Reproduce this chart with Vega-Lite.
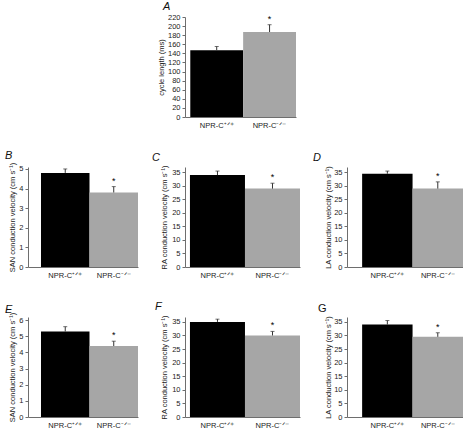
{
  "$schema": "https://vega.github.io/schema/vega-lite/v6.json",
  "padding": {"left": 5, "top": 1, "right": 0, "bottom": 0},
  "bounds": "flush",
  "columns": 3,
  "spacing": {"row": 50, "column": 47},
  "config": {
    "view": {"stroke": null},
    "font": "Liberation Sans",
    "axis": {"labelFont": "Liberation Sans", "titleFont": "Liberation Sans", "labelFontSize": 7.5, "titleFontSize": 7.5, "titleFontWeight": "normal", "domainColor": "#6e6e6e", "tickColor": "#6e6e6e", "labelColor": "#222222", "titleColor": "#222222", "grid": false, "tickSize": 3, "labelFlush": false, "labelOverlap": false, "labelSeparation": -4},
    "axisQuantitative": {"labelOverlap": false},
    "axisX": {"ticks": false, "labelAngle": 0, "labelPadding": 4},
    "axisY": {"labelPadding": 2, "labelOverlap": false},
    "title": {"font": "Liberation Sans", "fontSize": 11, "fontStyle": "italic", "fontWeight": "normal", "anchor": "start", "frame": "group", "color": "#111111", "baseline": "bottom"}
  },
  "concat": [
    {"width": 110, "height": 100, "data": {"values": [{"k": 0}]}, "mark": {"type": "point", "opacity": 0}, "encoding": {}},
    {
      "width": 111, "height": 100,
      "title": {"text": "A", "dx": -22, "offset": 1},
      "data": {"values": [{"genotype": "NPR-C⁺ᐟ⁺", "mean": 147, "upper": 155, "sig": ""}, {"genotype": "NPR-C⁻ᐟ⁻", "mean": 187, "upper": 203, "sig": "*"}]},
      "encoding": {"x": {"field": "genotype", "type": "nominal", "sort": null, "title": null, "scale": {"paddingInner": 0, "paddingOuter": 0.05, "align": 1}}},
      "layer": [
        {"mark": {"type": "bar"}, "encoding": {"y": {"field": "mean", "type": "quantitative", "title": "cycle length (ms)", "scale": {"domain": [0, 220], "nice": false}, "axis": {"values": [0, 20, 40, 60, 80, 100, 120, 140, 160, 180, 200, 220], "labelOverlap": false, "titleX": -20}}, "color": {"field": "genotype", "type": "nominal", "sort": null, "scale": {"range": ["#000000", "#a6a6a6"]}, "legend": null}}},
        {"mark": {"type": "rule", "color": "#333333", "strokeWidth": 1}, "encoding": {"y": {"field": "mean", "type": "quantitative", "title": "cycle length (ms)", "axis": {"values": [0, 20, 40, 60, 80, 100, 120, 140, 160, 180, 200, 220], "labelOverlap": false, "titleX": -20}}, "y2": {"field": "upper"}}},
        {"mark": {"type": "tick", "color": "#333333", "thickness": 1, "size": 4}, "encoding": {"y": {"field": "upper", "type": "quantitative", "title": "cycle length (ms)", "axis": {"values": [0, 20, 40, 60, 80, 100, 120, 140, 160, 180, 200, 220], "labelOverlap": false, "titleX": -20}}}},
        {"mark": {"type": "text", "baseline": "bottom", "dy": -1, "fontSize": 9, "font": "Liberation Sans"}, "encoding": {"y": {"field": "upper", "type": "quantitative", "title": "cycle length (ms)", "axis": {"values": [0, 20, 40, 60, 80, 100, 120, 140, 160, 180, 200, 220], "labelOverlap": false, "titleX": -20}}, "text": {"field": "sig"}}}
      ]
    },
    {"width": 116, "height": 100, "data": {"values": [{"k": 0}]}, "mark": {"type": "point", "opacity": 0}, "encoding": {}},
    {
      "width": 110, "height": 100,
      "title": {"text": "B", "dx": -23, "offset": -2},
      "data": {"values": [{"genotype": "NPR-C⁺ᐟ⁺", "mean": 4.8, "upper": 5.0, "sig": ""}, {"genotype": "NPR-C⁻ᐟ⁻", "mean": 3.8, "upper": 4.1, "sig": "*"}]},
      "encoding": {"x": {"field": "genotype", "type": "nominal", "sort": null, "title": null, "scale": {"paddingInner": 0, "paddingOuter": 0.134, "align": 1}}},
      "layer": [
        {"mark": {"type": "bar"}, "encoding": {"y": {"field": "mean", "type": "quantitative", "title": "SAN conduction velocity (cm s⁻¹)", "scale": {"domain": [0, 5.1], "nice": false}, "axis": {"values": [0, 1, 2, 3, 4, 5], "labelOverlap": false, "titleX": -12}}, "color": {"field": "genotype", "type": "nominal", "sort": null, "scale": {"range": ["#000000", "#a6a6a6"]}, "legend": null}}},
        {"mark": {"type": "rule", "color": "#333333", "strokeWidth": 1}, "encoding": {"y": {"field": "mean", "type": "quantitative", "title": "SAN conduction velocity (cm s⁻¹)", "axis": {"values": [0, 1, 2, 3, 4, 5], "labelOverlap": false, "titleX": -12}}, "y2": {"field": "upper"}}},
        {"mark": {"type": "tick", "color": "#333333", "thickness": 1, "size": 4}, "encoding": {"y": {"field": "upper", "type": "quantitative", "title": "SAN conduction velocity (cm s⁻¹)", "axis": {"values": [0, 1, 2, 3, 4, 5], "labelOverlap": false, "titleX": -12}}}},
        {"mark": {"type": "text", "baseline": "bottom", "dy": -1, "fontSize": 9, "font": "Liberation Sans"}, "encoding": {"y": {"field": "upper", "type": "quantitative", "title": "SAN conduction velocity (cm s⁻¹)", "axis": {"values": [0, 1, 2, 3, 4, 5], "labelOverlap": false, "titleX": -12}}, "text": {"field": "sig"}}}
      ]
    },
    {
      "width": 115, "height": 100,
      "title": {"text": "C", "dx": -33, "offset": -2},
      "data": {"values": [{"genotype": "NPR-C⁺ᐟ⁺", "mean": 34, "upper": 35.5, "sig": ""}, {"genotype": "NPR-C⁻ᐟ⁻", "mean": 29, "upper": 31, "sig": "*"}]},
      "encoding": {"x": {"field": "genotype", "type": "nominal", "sort": null, "title": null, "scale": {"paddingInner": 0, "paddingOuter": 0.045, "align": 1}}},
      "layer": [
        {"mark": {"type": "bar"}, "encoding": {"y": {"field": "mean", "type": "quantitative", "title": "RA conduction velocity (cm s⁻¹)", "scale": {"domain": [0, 37], "nice": false}, "axis": {"values": [0, 5, 10, 15, 20, 25, 30, 35], "labelOverlap": false, "titleX": -17}}, "color": {"field": "genotype", "type": "nominal", "sort": null, "scale": {"range": ["#000000", "#a6a6a6"]}, "legend": null}}},
        {"mark": {"type": "rule", "color": "#333333", "strokeWidth": 1}, "encoding": {"y": {"field": "mean", "type": "quantitative", "title": "RA conduction velocity (cm s⁻¹)", "axis": {"values": [0, 5, 10, 15, 20, 25, 30, 35], "labelOverlap": false, "titleX": -17}}, "y2": {"field": "upper"}}},
        {"mark": {"type": "tick", "color": "#333333", "thickness": 1, "size": 4}, "encoding": {"y": {"field": "upper", "type": "quantitative", "title": "RA conduction velocity (cm s⁻¹)", "axis": {"values": [0, 5, 10, 15, 20, 25, 30, 35], "labelOverlap": false, "titleX": -17}}}},
        {"mark": {"type": "text", "baseline": "bottom", "dy": -1, "fontSize": 9, "font": "Liberation Sans"}, "encoding": {"y": {"field": "upper", "type": "quantitative", "title": "RA conduction velocity (cm s⁻¹)", "axis": {"values": [0, 5, 10, 15, 20, 25, 30, 35], "labelOverlap": false, "titleX": -17}}, "text": {"field": "sig"}}}
      ]
    },
    {
      "width": 116, "height": 100,
      "title": {"text": "D", "dx": -34, "offset": -2},
      "data": {"values": [{"genotype": "NPR-C⁺ᐟ⁺", "mean": 34.5, "upper": 35.5, "sig": ""}, {"genotype": "NPR-C⁻ᐟ⁻", "mean": 29, "upper": 31.5, "sig": "*"}]},
      "encoding": {"x": {"field": "genotype", "type": "nominal", "sort": null, "title": null, "scale": {"paddingInner": 0, "paddingOuter": 0.15, "align": 1}}},
      "layer": [
        {"mark": {"type": "bar"}, "encoding": {"y": {"field": "mean", "type": "quantitative", "title": "LA conduction velocity (cm s⁻¹)", "scale": {"domain": [0, 37], "nice": false}, "axis": {"values": [0, 5, 10, 15, 20, 25, 30, 35], "labelOverlap": false, "titleX": -15}}, "color": {"field": "genotype", "type": "nominal", "sort": null, "scale": {"range": ["#000000", "#a6a6a6"]}, "legend": null}}},
        {"mark": {"type": "rule", "color": "#333333", "strokeWidth": 1}, "encoding": {"y": {"field": "mean", "type": "quantitative", "title": "LA conduction velocity (cm s⁻¹)", "axis": {"values": [0, 5, 10, 15, 20, 25, 30, 35], "labelOverlap": false, "titleX": -15}}, "y2": {"field": "upper"}}},
        {"mark": {"type": "tick", "color": "#333333", "thickness": 1, "size": 4}, "encoding": {"y": {"field": "upper", "type": "quantitative", "title": "LA conduction velocity (cm s⁻¹)", "axis": {"values": [0, 5, 10, 15, 20, 25, 30, 35], "labelOverlap": false, "titleX": -15}}}},
        {"mark": {"type": "text", "baseline": "bottom", "dy": -1, "fontSize": 9, "font": "Liberation Sans"}, "encoding": {"y": {"field": "upper", "type": "quantitative", "title": "LA conduction velocity (cm s⁻¹)", "axis": {"values": [0, 5, 10, 15, 20, 25, 30, 35], "labelOverlap": false, "titleX": -15}}, "text": {"field": "sig"}}}
      ]
    },
    {
      "width": 110, "height": 100,
      "title": {"text": "E", "dx": -23, "offset": -3},
      "data": {"values": [{"genotype": "NPR-C⁺ᐟ⁺", "mean": 5.3, "upper": 5.6, "sig": ""}, {"genotype": "NPR-C⁻ᐟ⁻", "mean": 4.4, "upper": 4.7, "sig": "*"}]},
      "encoding": {"x": {"field": "genotype", "type": "nominal", "sort": null, "title": null, "scale": {"paddingInner": 0, "paddingOuter": 0.134, "align": 1}}},
      "layer": [
        {"mark": {"type": "bar"}, "encoding": {"y": {"field": "mean", "type": "quantitative", "title": "SAN conduction velocity (cm s⁻¹)", "scale": {"domain": [0, 6.2], "nice": false}, "axis": {"values": [0, 1, 2, 3, 4, 5, 6], "labelOverlap": false, "titleX": -12}}, "color": {"field": "genotype", "type": "nominal", "sort": null, "scale": {"range": ["#000000", "#a6a6a6"]}, "legend": null}}},
        {"mark": {"type": "rule", "color": "#333333", "strokeWidth": 1}, "encoding": {"y": {"field": "mean", "type": "quantitative", "title": "SAN conduction velocity (cm s⁻¹)", "axis": {"values": [0, 1, 2, 3, 4, 5, 6], "labelOverlap": false, "titleX": -12}}, "y2": {"field": "upper"}}},
        {"mark": {"type": "tick", "color": "#333333", "thickness": 1, "size": 4}, "encoding": {"y": {"field": "upper", "type": "quantitative", "title": "SAN conduction velocity (cm s⁻¹)", "axis": {"values": [0, 1, 2, 3, 4, 5, 6], "labelOverlap": false, "titleX": -12}}}},
        {"mark": {"type": "text", "baseline": "bottom", "dy": -1, "fontSize": 9, "font": "Liberation Sans"}, "encoding": {"y": {"field": "upper", "type": "quantitative", "title": "SAN conduction velocity (cm s⁻¹)", "axis": {"values": [0, 1, 2, 3, 4, 5, 6], "labelOverlap": false, "titleX": -12}}, "text": {"field": "sig"}}}
      ]
    },
    {
      "width": 115, "height": 100,
      "title": {"text": "F", "dx": -30, "offset": -3},
      "data": {"values": [{"genotype": "NPR-C⁺ᐟ⁺", "mean": 35, "upper": 36, "sig": ""}, {"genotype": "NPR-C⁻ᐟ⁻", "mean": 30, "upper": 31.5, "sig": "*"}]},
      "encoding": {"x": {"field": "genotype", "type": "nominal", "sort": null, "title": null, "scale": {"paddingInner": 0, "paddingOuter": 0.045, "align": 1}}},
      "layer": [
        {"mark": {"type": "bar"}, "encoding": {"y": {"field": "mean", "type": "quantitative", "title": "RA conduction velocity (cm s⁻¹)", "scale": {"domain": [0, 36.8], "nice": false}, "axis": {"values": [0, 5, 10, 15, 20, 25, 30, 35], "labelOverlap": false, "titleX": -17}}, "color": {"field": "genotype", "type": "nominal", "sort": null, "scale": {"range": ["#000000", "#a6a6a6"]}, "legend": null}}},
        {"mark": {"type": "rule", "color": "#333333", "strokeWidth": 1}, "encoding": {"y": {"field": "mean", "type": "quantitative", "title": "RA conduction velocity (cm s⁻¹)", "axis": {"values": [0, 5, 10, 15, 20, 25, 30, 35], "labelOverlap": false, "titleX": -17}}, "y2": {"field": "upper"}}},
        {"mark": {"type": "tick", "color": "#333333", "thickness": 1, "size": 4}, "encoding": {"y": {"field": "upper", "type": "quantitative", "title": "RA conduction velocity (cm s⁻¹)", "axis": {"values": [0, 5, 10, 15, 20, 25, 30, 35], "labelOverlap": false, "titleX": -17}}}},
        {"mark": {"type": "text", "baseline": "bottom", "dy": -1, "fontSize": 9, "font": "Liberation Sans"}, "encoding": {"y": {"field": "upper", "type": "quantitative", "title": "RA conduction velocity (cm s⁻¹)", "axis": {"values": [0, 5, 10, 15, 20, 25, 30, 35], "labelOverlap": false, "titleX": -17}}, "text": {"field": "sig"}}}
      ]
    },
    {
      "width": 116, "height": 100,
      "title": {"text": "G", "dx": -29, "offset": -3, "fontStyle": "normal"},
      "data": {"values": [{"genotype": "NPR-C⁺ᐟ⁺", "mean": 34, "upper": 35.5, "sig": ""}, {"genotype": "NPR-C⁻ᐟ⁻", "mean": 29.5, "upper": 31, "sig": "*"}]},
      "encoding": {"x": {"field": "genotype", "type": "nominal", "sort": null, "title": null, "scale": {"paddingInner": 0, "paddingOuter": 0.15, "align": 1}}},
      "layer": [
        {"mark": {"type": "bar"}, "encoding": {"y": {"field": "mean", "type": "quantitative", "title": "LA conduction velocity (cm s⁻¹)", "scale": {"domain": [0, 36.8], "nice": false}, "axis": {"values": [0, 5, 10, 15, 20, 25, 30, 35], "labelOverlap": false, "titleX": -15}}, "color": {"field": "genotype", "type": "nominal", "sort": null, "scale": {"range": ["#000000", "#a6a6a6"]}, "legend": null}}},
        {"mark": {"type": "rule", "color": "#333333", "strokeWidth": 1}, "encoding": {"y": {"field": "mean", "type": "quantitative", "title": "LA conduction velocity (cm s⁻¹)", "axis": {"values": [0, 5, 10, 15, 20, 25, 30, 35], "labelOverlap": false, "titleX": -15}}, "y2": {"field": "upper"}}},
        {"mark": {"type": "tick", "color": "#333333", "thickness": 1, "size": 4}, "encoding": {"y": {"field": "upper", "type": "quantitative", "title": "LA conduction velocity (cm s⁻¹)", "axis": {"values": [0, 5, 10, 15, 20, 25, 30, 35], "labelOverlap": false, "titleX": -15}}}},
        {"mark": {"type": "text", "baseline": "bottom", "dy": -1, "fontSize": 9, "font": "Liberation Sans"}, "encoding": {"y": {"field": "upper", "type": "quantitative", "title": "LA conduction velocity (cm s⁻¹)", "axis": {"values": [0, 5, 10, 15, 20, 25, 30, 35], "labelOverlap": false, "titleX": -15}}, "text": {"field": "sig"}}}
      ]
    }
  ]
}
